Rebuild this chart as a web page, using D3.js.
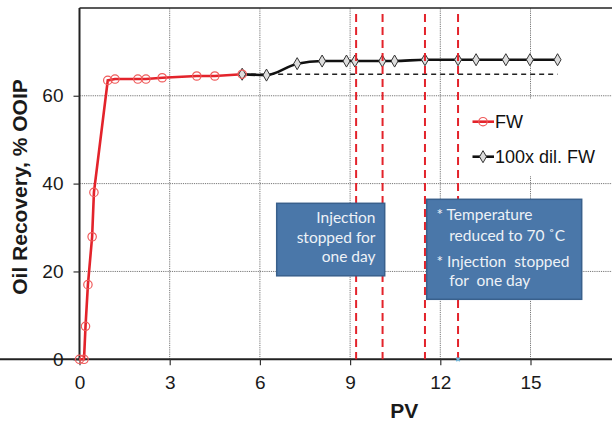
<!DOCTYPE html>
<html>
<head>
<meta charset="utf-8">
<script src="https://cdn.jsdelivr.net/npm/d3@7"></script>
<style>
  html, body { margin: 0; padding: 0; background: #fff; }
  svg { display: block; }
</style>
</head>
<body>
<svg id="chart" width="612" height="421"></svg>
<script>
// ---- data ----
const fwPV  = [0, 0.15, 0.2, 0.28, 0.42, 0.48, 0.94, 1.18, 1.94, 2.21, 2.75, 3.9, 4.5, 5.41];
const fwRec = [0, 0, 7.5, 17, 27.9, 38, 63.5, 63.8, 63.8, 63.8, 64.1, 64.5, 64.5, 64.9];
const dilPV  = [5.41, 6.22, 7.24, 8.07, 8.88, 9.16, 10.07, 10.48, 11.49, 12.59, 13.19, 14.18, 14.98, 15.9];
const dilRec = [64.9, 64.7, 67.3, 67.9, 67.9, 67.9, 67.9, 67.9, 68.2, 68.2, 68.2, 68.2, 68.2, 68.2];
const baselinePV = [5.41, 15.9];
const baselineRec = 64.9;
const eventPV = [9.2, 10.08, 11.49, 12.59];
const xTicks = [0, 3, 6, 9, 12, 15];
const yTicks = [0, 20, 40, 60];
const seriesNames = ["FW", "100x dil. FW"];
const box1Lines = ["Injection", "stopped for", "one day"];
const box2Lines = ["* Temperature", "reduced to 70 \u02daC", "* Injection  stopped", "for  one day"];
const box1Anchor = [9.9, 58];   // [PV, recovery] of right/top text reference
const box2Anchor = [11.88, 59];

// ---- layout ----
const svg = d3.select("#chart");
const x = d3.scaleLinear().domain([0, 18]).range([79.5, 620.7]);
const y = d3.scaleLinear().domain([0, 80]).range([359.3, 7.9]);

const red = "#e3232b";
const font = "'Liberation Sans', Arial, sans-serif";

// grid
const grid = svg.append("g");
grid.selectAll("line.h").data(yTicks.filter(d => d > 0)).join("line")
  .attr("x1", x(0)).attr("x2", x(18)).attr("y1", d => y(d)).attr("y2", d => y(d))
  .attr("stroke", "#777").attr("stroke-width", 1).attr("stroke-dasharray", "1.2,1");
grid.selectAll("line.v").data(xTicks.filter(d => d > 0)).join("line")
  .attr("y1", y(0)).attr("y2", y(80)).attr("x1", d => x(d)).attr("x2", d => x(d))
  .attr("stroke", "#777").attr("stroke-width", 1).attr("stroke-dasharray", "1.2,1");

// top frame
svg.append("line").attr("x1", x(0)).attr("x2", x(18)).attr("y1", y(80)).attr("y2", y(80))
  .attr("stroke", "#222").attr("stroke-width", 1.5);

// axes
const xAxis = d3.axisBottom(x).tickValues(xTicks).tickSize(6).tickPadding(10).tickFormat(d3.format("d"));
const yAxis = d3.axisLeft(y).tickValues(yTicks).tickSize(6).tickPadding(10).tickFormat(d3.format("d"));
const gx = svg.append("g").attr("transform", `translate(0,${y(0)})`).call(xAxis);
const gy = svg.append("g").attr("transform", `translate(${x(0)},0)`).call(yAxis);
[gx, gy].forEach(g => {
  g.select(".domain").attr("stroke", "#222").attr("stroke-width", 2);
  g.selectAll(".tick line").attr("stroke", "#333").attr("stroke-width", 1.2);
  g.selectAll(".tick text").attr("font-family", font).attr("font-size", 19).attr("fill", "#1a1a1a");
});
gy.select(".domain").attr("d", `M0,${y(80)}V${y(0) + 1}`);
gx.select(".domain").attr("d", `M0,0H${x(18)}`);

// axis titles
svg.append("text").attr("x", x(10.8)).attr("y", 418).attr("text-anchor", "middle")
  .attr("font-family", font).attr("font-weight", "bold").attr("font-size", 21).attr("fill", "#1a1a1a").text("PV");
svg.append("text").attr("transform", `translate(27,${187}) rotate(-90)`).attr("text-anchor", "middle")
  .attr("font-family", font).attr("font-weight", "bold").attr("font-size", 21).attr("fill", "#1a1a1a")
  .text("Oil Recovery, % OOIP");

// baseline dashed
svg.append("line").attr("x1", x(baselinePV[0])).attr("x2", x(baselinePV[1]))
  .attr("y1", y(baselineRec)).attr("y2", y(baselineRec))
  .attr("stroke", "#222").attr("stroke-width", 1.4).attr("stroke-dasharray", "5,4");

// series
const fw = fwPV.map((p, i) => [p, fwRec[i]]);
const dil = dilPV.map((p, i) => [p, dilRec[i]]);
svg.append("path").datum(dil)
  .attr("d", d3.line().x(d => x(d[0])).y(d => y(d[1])).curve(d3.curveMonotoneX))
  .attr("fill", "none").attr("stroke", "#111").attr("stroke-width", 2.6);
svg.append("path").datum(fw)
  .attr("d", d3.line().x(d => x(d[0])).y(d => y(d[1])))
  .attr("fill", "none").attr("stroke", red).attr("stroke-width", 2.6);

const diamond = d3.symbol().type(d3.symbolDiamond).size(42);
svg.selectAll("path.dm").data(dil).join("path")
  .attr("transform", d => `translate(${x(d[0])},${y(d[1])})`).attr("d", diamond)
  .attr("fill", "#ddd").attr("stroke", "#333").attr("stroke-width", 1);
svg.selectAll("circle.fw").data(fw).join("circle")
  .attr("cx", d => x(d[0])).attr("cy", d => y(d[1])).attr("r", 4.2)
  .attr("fill", "none").attr("stroke", "#ef5a5a").attr("stroke-width", 1.2);

// event dashed lines
svg.selectAll("line.ev").data(eventPV).join("line")
  .attr("x1", d => x(d)).attr("x2", d => x(d)).attr("y1", y(78.6)).attr("y2", y(0))
  .attr("stroke", red).attr("stroke-width", 2).attr("stroke-dasharray", "8,5");

// small marker at bottom
const lastEv = eventPV[eventPV.length - 1];
svg.append("path").attr("transform", `translate(${x(lastEv)},${y(0)}) rotate(45)`)
  .attr("d", d3.symbol().type(d3.symbolCross).size(14)).attr("fill", "#6fb3d6");

// legend
const lg = svg.append("g");
lg.append("rect").attr("x", 466).attr("y", 99).attr("width", 150).attr("height", 77).attr("fill", "#fff");
const legendRows = [
  { name: seriesNames[0], y: 121.7, color: red, sym: "c" },
  { name: seriesNames[1], y: 156.7, color: "#111", sym: "d" }
];
legendRows.forEach(r => {
  lg.append("line").attr("x1", 472.5).attr("x2", 494).attr("y1", r.y).attr("y2", r.y)
    .attr("stroke", r.color).attr("stroke-width", 2.6);
  if (r.sym === "c") {
    lg.append("circle").attr("cx", 483).attr("cy", r.y).attr("r", 4.2)
      .attr("fill", "none").attr("stroke", "#ef5a5a").attr("stroke-width", 1.2);
  } else {
    lg.append("path").attr("transform", `translate(483,${r.y})`).attr("d", diamond)
      .attr("fill", "#ddd").attr("stroke", "#333").attr("stroke-width", 1);
  }
  lg.append("text").attr("x", 495).attr("y", r.y + 6.6).attr("font-family", font)
    .attr("font-size", 18).attr("fill", "#111").text(r.name);
});

// annotation boxes
const boxFill = "#4a77a9", boxStroke = "#39608c", boxText = "#eef2f7";
const bfont = "Lato, 'Open Sans', sans-serif";
const b1 = svg.append("g");
b1.append("rect").attr("x", 276.7).attr("y", 203.3).attr("width", 108).attr("height", 72.5)
  .attr("fill", boxFill).attr("stroke", boxStroke).attr("stroke-width", 1.5);
box1Lines.forEach((t, i) => {
  b1.append("text").attr("x", 375.5).attr("y", 223.3 + i * 19.5).attr("text-anchor", "end")
    .attr("font-family", bfont).attr("font-size", 15.5).attr("fill", boxText).text(t);
});
const b2 = svg.append("g");
b2.append("rect").attr("x", 426.7).attr("y", 199.3).attr("width", 155).attr("height", 100)
  .attr("fill", boxFill).attr("stroke", boxStroke).attr("stroke-width", 1.5);
const b2x = [436.5, 449.3, 436.5, 449.3];
const b2y = [220, 240.5, 266.5, 286];
box2Lines.forEach((t, i) => {
  b2.append("text").attr("x", b2x[i]).attr("y", b2y[i]).attr("xml:space", "preserve")
    .style("white-space", "pre")
    .attr("font-family", bfont).attr("font-size", 15.5).attr("fill", boxText).text(t);
});
</script>
</body>
</html>
